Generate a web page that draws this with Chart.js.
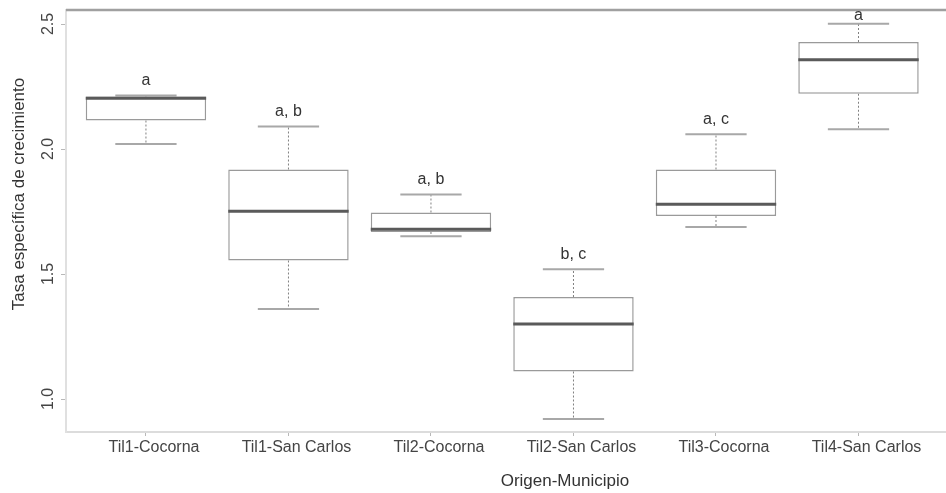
<!DOCTYPE html>
<html><head><meta charset="utf-8">
<script src="https://cdn.jsdelivr.net/npm/chart.js@4.4.1/dist/chart.umd.min.js"></script>
<style>html,body{margin:0;padding:0;background:#fff;overflow:hidden}#wrap{width:946px;height:493px;position:relative}</style>
</head><body><div id="wrap"><canvas id="c" width="946" height="493"></canvas></div>
<script>
const categories = ['Til1-Cocorna','Til1-San Carlos','Til2-Cocorna','Til2-San Carlos','Til3-Cocorna','Til4-San Carlos'];
const whiskerLow  = [2.020, 1.360, 1.651, 0.920, 1.688, 2.079];
const quartile1   = [2.114, 1.554, 1.668, 1.110, 1.732, 2.221];
const medians     = [2.203, 1.751, 1.679, 1.300, 1.779, 2.357];
const quartile3   = [2.210, 1.918, 1.746, 1.408, 1.918, 2.428];
const whiskerHigh = [2.214, 2.090, 1.818, 1.519, 2.059, 2.501];
const groupLetters = ['a', 'a, b', 'a, b', 'b, c', 'a, c', 'a'];
const yTickValues = [1.0, 1.5, 2.0, 2.5];
const yTitle = 'Tasa específica de crecimiento';
const xTitle = 'Origen-Municipio';

const BOX_W = 0.845, CAP_W = 0.43;
const FONT = '"Liberation Sans", Arial, Helvetica, sans-serif';

const boxData = categories.map((c, i) => ({x: i, y: [quartile1[i], quartile3[i]]}));
const medianData = [], capData = [], whiskerData = [];
categories.forEach((c, i) => {
  medianData.push({x: i - BOX_W/2, y: medians[i]}, {x: i + BOX_W/2, y: medians[i]}, {x: i, y: null});
  capData.push({x: i - CAP_W/2, y: whiskerHigh[i]}, {x: i + CAP_W/2, y: whiskerHigh[i]}, {x: i, y: null});
  capData.push({x: i - CAP_W/2, y: whiskerLow[i]}, {x: i + CAP_W/2, y: whiskerLow[i]}, {x: i, y: null});
  whiskerData.push({x: i, y: quartile3[i]}, {x: i, y: whiskerHigh[i]}, {x: i, y: null});
  whiskerData.push({x: i, y: quartile1[i]}, {x: i, y: whiskerLow[i]}, {x: i, y: null});
});

const decorations = {
  id: 'decorations',
  afterDatasetsDraw(chart) {
    const {ctx, chartArea: a, scales: {x, y}} = chart;
    ctx.save();
    ctx.strokeStyle = '#a0a0a0'; ctx.lineWidth = 2.5;
    ctx.beginPath(); ctx.moveTo(a.left, a.top); ctx.lineTo(a.right, a.top); ctx.stroke();
    ctx.fillStyle = '#333'; ctx.font = '16px ' + FONT;
    ctx.textAlign = 'center'; ctx.textBaseline = 'middle';
    groupLetters.forEach((t, i) => {
      const py = Math.max(y.getPixelForValue(whiskerHigh[i]) - 15, a.top + 6);
      ctx.fillText(t, x.getPixelForValue(i), py);
    });
    ctx.restore();
  },
  afterDraw(chart) {
    const {ctx, chartArea: a, scales: {x, y}} = chart;
    ctx.save();
    ctx.font = '16px ' + FONT; ctx.textAlign = 'center'; ctx.textBaseline = 'middle';
    ctx.fillStyle = '#444';
    y.ticks.forEach(t => {
      ctx.save();
      ctx.translate(a.left - 17, y.getPixelForValue(t.value));
      ctx.rotate(-Math.PI / 2);
      ctx.fillText(t.value.toFixed(1), 0, 0);
      ctx.restore();
    });
    ctx.fillStyle = '#333';
    ctx.font = '17px ' + FONT;
    ctx.save();
    ctx.translate(19, (a.top + a.bottom) / 2 - 27);
    ctx.rotate(-Math.PI / 2);
    ctx.fillText(yTitle, 0, 0);
    ctx.restore();
    ctx.fillText(xTitle, x.getPixelForValue(2.94), 481);
    ctx.restore();
  }
};

new Chart(document.getElementById('c'), {
  type: 'bar',
  data: {
    datasets: [
      {type: 'line', data: whiskerData, borderColor: '#808080', borderWidth: 1, borderDash: [2, 2],
       pointRadius: 0, spanGaps: false, fill: false, order: 4},
      {type: 'bar', data: boxData, backgroundColor: '#ffffff', borderColor: '#9a9a9a', borderWidth: 1.5,
       borderSkipped: false, barPercentage: BOX_W, categoryPercentage: 1, order: 3},
      {type: 'line', data: capData, borderColor: '#a8a8a8', borderWidth: 2,
       pointRadius: 0, spanGaps: false, fill: false, order: 2},
      {type: 'line', data: medianData, borderColor: '#5a5a5a', borderWidth: 3,
       pointRadius: 0, spanGaps: false, fill: false, order: 1}
    ]
  },
  options: {
    responsive: false,
    animation: false,
    events: [],
    layout: {padding: {top: 10, right: 0, left: 0, bottom: 0}},
    plugins: {legend: {display: false}, tooltip: {enabled: false}},
    scales: {
      x: {
        type: 'linear', min: -0.561, max: 5.614, offset: false,
        grid: {offset: false, drawOnChartArea: false, drawTicks: true, tickLength: 4, color: '#b8b8b8'},
        border: {display: true, color: '#dcdcdc', width: 2},
        afterBuildTicks: s => { s.ticks = categories.map((c, i) => ({value: i})); },
        afterFit: s => { s.height = 61; },
        ticks: {
          autoSkip: false, maxRotation: 0, minRotation: 0, labelOffset: 8, padding: 2,
          color: '#444', font: {family: FONT, size: 16},
          callback: v => categories[v] ?? ''
        }
      },
      y: {
        type: 'linear', min: 0.868, max: 2.556,
        grid: {drawOnChartArea: false, drawTicks: true, tickLength: 5, color: '#b8b8b8'},
        border: {display: true, color: '#e0e0e0', width: 2},
        afterBuildTicks: s => { s.ticks = yTickValues.map(v => ({value: v})); },
        afterFit: s => { s.width = 66; },
        ticks: {display: false}
      }
    }
  },
  plugins: [decorations]
});
</script>
</body></html>
